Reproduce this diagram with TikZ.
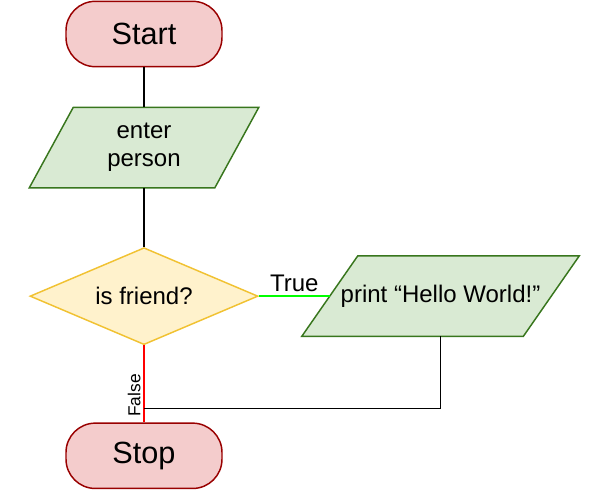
\documentclass[tikz,border=0pt]{standalone}
\usepackage{fontspec}
\setmainfont{Liberation Sans}
\usetikzlibrary{positioning,shapes.geometric,backgrounds}

\definecolor{termfill}{HTML}{F4CCCC}
\definecolor{termline}{HTML}{990000}
\definecolor{iofill}{HTML}{D9EAD3}
\definecolor{ioline}{HTML}{38761D}
\definecolor{askfill}{HTML}{FFF2CC}
\definecolor{askline}{HTML}{F1C232}
\definecolor{yesline}{HTML}{00FF00}
\definecolor{noline}{HTML}{FF0000}

\begin{document}
\begin{tikzpicture}[
  font=\fontsize{18pt}{21pt}\selectfont,
  terminal/.style={
    draw=termline,
    fill=termfill,
    line width=1.1pt,
    rounded corners=22pt,
    minimum width=117pt,
    minimum height=49pt,
    font=\fontsize{23pt}{27pt}\selectfont
  },
  io/.style={
    align=center,
    minimum height=60pt,
    inner sep=0pt
  },
  iobox/.style={
    draw=ioline,
    fill=iofill,
    line width=1.1pt,
    line join=miter
  },
  decision/.style={
    diamond,
    aspect=2.35,
    draw=askline,
    fill=askfill,
    line width=1.1pt,
    minimum width=171pt,
    minimum height=72.75pt,
    inner sep=0pt
  },
  flow/.style={line width=1.1pt, draw=black},
  label/.style={font=\fontsize{18pt}{21pt}\selectfont, inner sep=3pt}
]
\useasboundingbox (-108pt,25.5pt) rectangle (336.75pt,-348.75pt);

\node[terminal] (start) {Start};

\node[io, below=30pt of start, minimum width=138.75pt] (enter) {enter\\person};

\node[decision, below=44.25pt of enter] (friend) {is friend?};

\node[io, right=53.25pt of friend, minimum width=165.75pt] (print) {print “Hello World!”};

\node[terminal, below=57.75pt of friend] (stop) {Stop};

\coordinate[above=10.5pt of stop.north] (join);

% parallelogram outlines behind the io texts
\begin{scope}[on background layer]
  \draw[iobox] ([xshift=16.5pt]enter.north west) -- ([xshift=16.5pt]enter.north east)
    -- ([xshift=-16.5pt]enter.south east) -- ([xshift=-16.5pt]enter.south west) -- cycle;
  \draw[iobox] ([xshift=21pt]print.north west) -- ([xshift=21pt]print.north east)
    -- ([xshift=-21pt]print.south east) -- ([xshift=-21pt]print.south west) -- cycle;
\end{scope}

\draw[flow] (start) -- (enter);
\draw[flow] (enter) -- (friend);
\draw[flow, draw=yesline] (friend.east) -- node[label, above] {True} (print.west);
\draw[flow, draw=noline] (friend.south) -- node[pos=0.65, rotate=90, anchor=south,
  inner sep=2pt, font=\fontsize{13pt}{15pt}\selectfont] {False} (stop.north);
\draw[flow] (print.south) |- (join);

\end{tikzpicture}
\end{document}
